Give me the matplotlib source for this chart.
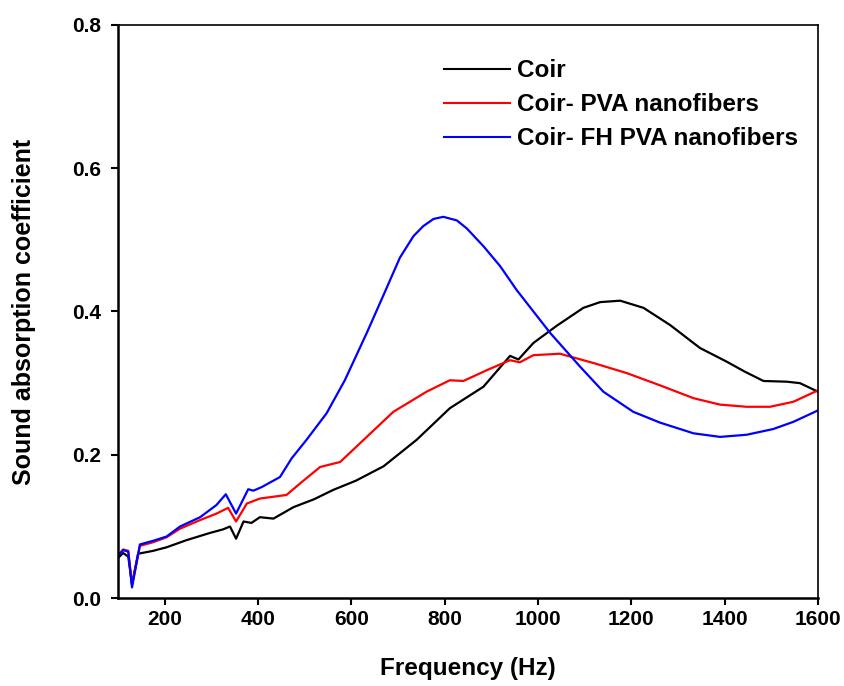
import matplotlib.pyplot as plt

# Sound absorption coefficient vs frequency
freq_coir = [100, 111, 122, 130, 143, 175, 204, 247, 297, 325, 340, 353, 369, 386, 404,
             433, 476, 520, 561, 610, 669, 740, 811, 883, 940, 958, 990, 1040, 1097,
             1133, 1176, 1226, 1283, 1347, 1404, 1443, 1483, 1533, 1561, 1600]
coir = [0.056, 0.063, 0.058, 0.020, 0.062, 0.066, 0.071, 0.081, 0.091, 0.096, 0.100,
        0.083, 0.107, 0.105, 0.113, 0.111, 0.127, 0.138, 0.151, 0.164, 0.184, 0.221,
        0.265, 0.295, 0.338, 0.333, 0.356, 0.380, 0.405, 0.413, 0.415, 0.405, 0.381,
        0.349, 0.330, 0.316, 0.303, 0.302, 0.300, 0.288]

freq_pva = [100, 111, 122, 130, 147, 175, 204, 233, 276, 311, 336, 353, 376, 404, 461,
            490, 533, 576, 633, 690, 761, 811, 840, 890, 940, 961, 990, 1047, 1119,
            1190, 1261, 1333, 1390, 1447, 1497, 1547, 1600]
pva = [0.060, 0.068, 0.066, 0.018, 0.073, 0.078, 0.085, 0.097, 0.109, 0.118, 0.126,
       0.107, 0.132, 0.139, 0.144, 0.160, 0.183, 0.190, 0.225, 0.260, 0.288, 0.304,
       0.303, 0.318, 0.332, 0.329, 0.339, 0.341, 0.328, 0.314, 0.297, 0.279, 0.270,
       0.267, 0.267, 0.274, 0.290]

freq_fh = [100, 111, 122, 130, 147, 175, 204, 233, 276, 311, 331, 353, 379, 390, 408,
           447, 472, 504, 547, 586, 633, 669, 704, 733, 754, 776, 797, 826, 847, 883,
           919, 954, 990, 1026, 1090, 1140, 1204, 1261, 1333, 1390, 1447, 1504, 1547,
           1600]
fh = [0.058, 0.067, 0.065, 0.015, 0.075, 0.080, 0.086, 0.100, 0.113, 0.130, 0.145,
      0.118, 0.152, 0.150, 0.155, 0.169, 0.195, 0.221, 0.258, 0.304, 0.370, 0.423,
      0.475, 0.505, 0.519, 0.529, 0.532, 0.527, 0.516, 0.491, 0.463, 0.430, 0.400,
      0.370, 0.323, 0.288, 0.260, 0.245, 0.230, 0.225, 0.228, 0.236, 0.246, 0.262]

labels = ["Coir", "Coir- PVA nanofibers", "Coir- FH PVA nanofibers"]
colors = ["black", "red", "blue"]

plt.rcParams["font.family"] = ["Liberation Sans", "DejaVu Sans"]
fig = plt.figure(figsize=(8.44, 6.86), dpi=100)
ax = fig.add_axes([0.1398, 0.128, 0.8295, 0.836])

for x, y, lab, c in zip([freq_coir, freq_pva, freq_fh], [coir, pva, fh], labels, colors):
    ax.plot(x, y, color=c, lw=1.6, label=lab)

ax.set_xlim(100, 1600)
ax.set_ylim(0, 0.8)
ax.set_xticks(range(200, 1601, 200))
ax.set_yticks([0.0, 0.2, 0.4, 0.6, 0.8])
ax.set_yticklabels(["0.0", "0.2", "0.4", "0.6", "0.8"])

for s in ["left", "bottom"]:
    ax.spines[s].set_linewidth(1.8)
for s in ["top", "right"]:
    ax.spines[s].set_linewidth(1.2)
ax.tick_params(direction="out", length=5, width=1.5, top=False, right=False)
ax.tick_params(axis="y", pad=7)
for t in ax.get_xticklabels() + ax.get_yticklabels():
    t.set_fontweight("bold")
    t.set_fontsize(15)

ax.set_xlabel("Frequency (Hz)", fontsize=17.5, fontweight="bold", labelpad=20)
ax.set_ylabel("Sound absorption coefficient", fontsize=18, fontweight="bold", labelpad=26)

leg = ax.legend(loc="upper right", bbox_to_anchor=(1.003, 0.978), frameon=False,
                prop={"weight": "bold", "size": 17.5}, handlelength=2.7,
                handletextpad=0.3, labelspacing=0.45)
for line in leg.get_lines():
    line.set_linewidth(1.5)

fig.savefig("out.png", dpi=100)
